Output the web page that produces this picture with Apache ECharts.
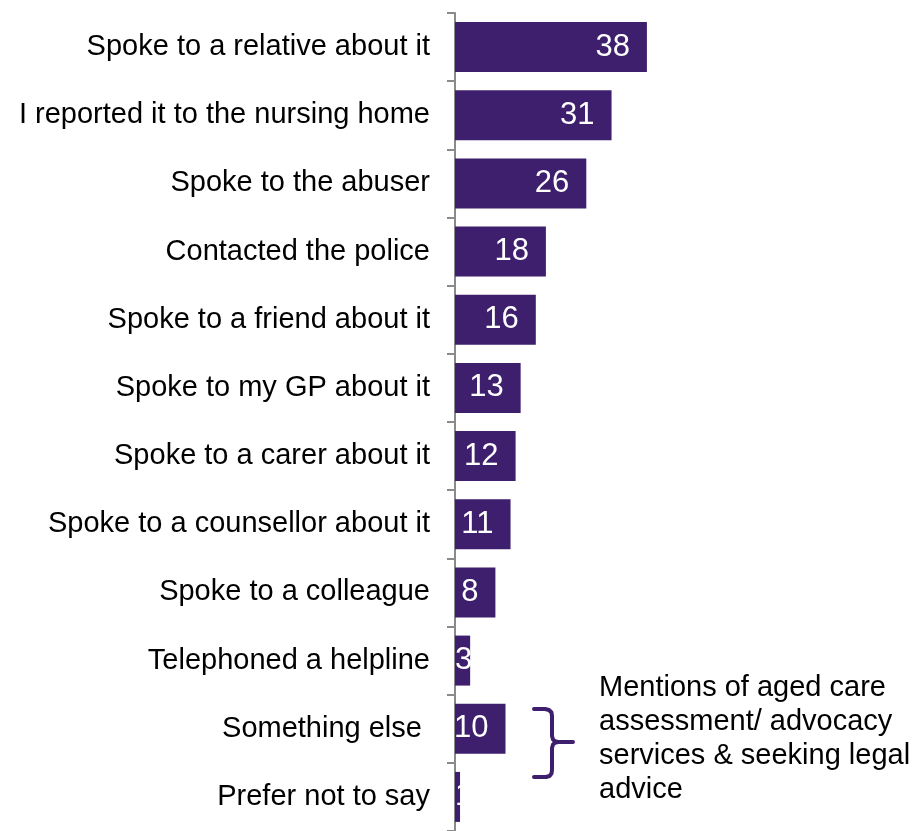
<!DOCTYPE html>
<html>
<head>
<meta charset="utf-8">
<title>Actions taken</title>
<script src="https://cdn.jsdelivr.net/npm/echarts@6/dist/echarts.min.js"></script>
<style>
  html, body { margin: 0; padding: 0; background: #fff; }
  #chart { width: 917px; height: 831px; }
</style>
</head>
<body>
<div id="chart"></div>
<script>
// Responses, top to bottom
const categories = [
  'Spoke to a relative about it',
  'I reported it to the nursing home',
  'Spoke to the abuser',
  'Contacted the police',
  'Spoke to a friend about it',
  'Spoke to my GP about it',
  'Spoke to a carer about it',
  'Spoke to a counsellor about it',
  'Spoke to a colleague',
  'Telephoned a helpline',
  'Something else ',
  'Prefer not to say'
];
const values = [38, 31, 26, 18, 16, 13, 12, 11, 8, 3, 10, 1];
const noteLines = [
  'Mentions of aged care',
  'assessment/ advocacy',
  'services & seeking legal',
  'advice'
];

const PURPLE = '#3d1f6e';
const FONT = 'Liberation Sans, Arial, Helvetica, sans-serif';

const chart = echarts.init(document.getElementById('chart'), null, { renderer: 'canvas' });

const seriesData = values.map(function (v) {
  const small = v < 5;
  return {
    value: v,
    label: small
      ? { position: 'insideLeft', distance: 0 }
      : { position: 'insideRight', distance: 17 }
  };
});

// Curly bracket beside "Something else"
const bracketStyle = { fill: null, stroke: PURPLE, lineWidth: 4, lineCap: 'round', lineJoin: 'round' };
const bracketTop = [[534, 709], [545, 709], [549, 710], [551.5, 712.5], [552, 716], [552, 736],
  [553, 739.5], [555, 741.3], [558, 742], [573, 742]];
const bracketBottom = [[558, 742], [555, 742.7], [553, 744.5], [552, 748], [552, 770],
  [551.5, 773.5], [549.5, 776], [546, 777], [534, 777]];

chart.setOption({
  animation: false,
  backgroundColor: '#ffffff',
  grid: { left: 455, top: 13, width: 404, height: 822, containLabel: false },
  xAxis: {
    type: 'value',
    min: 0,
    max: 80,
    show: false
  },
  yAxis: {
    type: 'category',
    data: categories,
    inverse: true,
    axisLine: { show: true, lineStyle: { color: '#8a8a8a', width: 2 } },
    axisTick: { show: true, length: 8, lineStyle: { color: '#8a8a8a', width: 2 } },
    axisLabel: {
      margin: 25,
      color: '#000000',
      fontFamily: FONT,
      fontSize: 29,
      padding: [4, 0, 0, 0]
    },
    splitLine: { show: false }
  },
  series: [{
    type: 'bar',
    data: seriesData,
    barWidth: 50,
    itemStyle: { color: PURPLE },
    label: {
      show: true,
      color: '#ffffff',
      fontFamily: FONT,
      fontSize: 31,
      padding: [4, 0, 0, 0]
    }
  }],
  graphic: [
    { type: 'polyline', shape: { points: bracketTop }, style: bracketStyle },
    { type: 'polyline', shape: { points: bracketBottom }, style: bracketStyle },
    {
      type: 'text',
      x: 599,
      y: 671,
      style: {
        text: noteLines.join('\n'),
        fill: '#000000',
        font: '29px ' + FONT,
        lineHeight: 34
      }
    }
  ]
});
</script>
</body>
</html>
